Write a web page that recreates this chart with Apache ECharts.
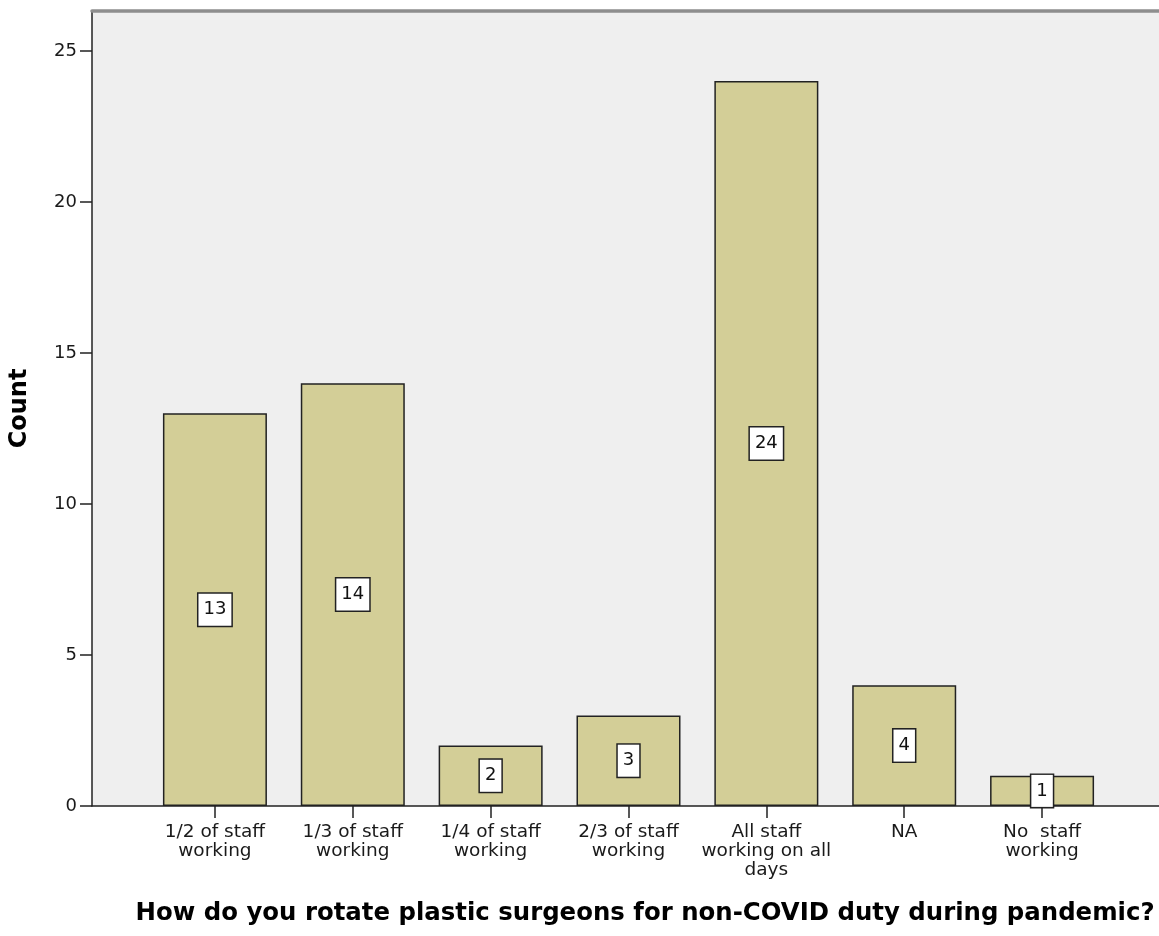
<!DOCTYPE html>
<html><head><meta charset="utf-8">
<script src="https://cdn.jsdelivr.net/npm/echarts@6/dist/echarts.min.js"></script>
<style>html,body{margin:0;padding:0;background:#fff}#c{width:1159px;height:936px}</style>
</head><body><div id="c"></div>
<script>
const categories = ['1/2 of staff\nworking','1/3 of staff\nworking','1/4 of staff\nworking','2/3 of staff\nworking','All staff\nworking on all\ndays','NA','No  staff\nworking'];
const counts = [13, 14, 2, 3, 24, 4, 1];
const yTicks = [0, 5, 10, 15, 20, 25];
const xTitle = 'How do you rotate plastic surgeons for non-COVID duty during pandemic?';
const yTitle = 'Count';

const font = '"DejaVu Sans", Verdana, sans-serif';
const chart = echarts.init(document.getElementById('c'));
const yMax = 26.32;
chart.setOption({
  animation: false,
  textStyle: {fontFamily: font},
  grid: [
    {left: 92, right: 0, top: 11, bottom: 130, show: true, backgroundColor: '#efefef', borderWidth: 0},
    {left: 146, right: 48, top: 11, bottom: 130}
  ],
  title: {text: xTitle, left: 640, top: 897, textAlign: 'center',
    textStyle: {fontSize: 24.4, fontWeight: 'bold', color: '#000', fontFamily: font}},
  xAxis: [
    {type: 'value', gridIndex: 0, min: 0, max: 1, position: 'bottom',
      axisLine: {show: true, lineStyle: {color: '#222', width: 1.5}}, axisTick: {show: false}, axisLabel: {show: false}, splitLine: {show: false}},
    {type: 'value', gridIndex: 0, min: 0, max: 1, position: 'top',
      axisLine: {show: true, lineStyle: {color: '#8e8e8e', width: 3.5}}, axisTick: {show: false}, axisLabel: {show: false}, splitLine: {show: false}},
    {type: 'category', gridIndex: 1, data: categories, position: 'bottom',
      axisLine: {show: false}, axisTick: {show: true, alignWithLabel: true, length: 12, lineStyle: {color: '#222', width: 1.5}},
      axisLabel: {color: '#1a1a1a', fontSize: 18.5, lineHeight: 19, margin: 17, interval: 0, fontFamily: font}}
  ],
  yAxis: [
    {type: 'value', gridIndex: 0, min: 0, max: yMax, interval: 5,
      name: yTitle, nameLocation: 'middle', nameRotate: 90, nameGap: 60,
      nameTextStyle: {fontSize: 24, fontWeight: 'bold', color: '#000', fontFamily: font},
      axisLine: {show: true, lineStyle: {color: '#222', width: 1.5}},
      axisTick: {show: true, length: 12, customValues: yTicks, lineStyle: {color: '#222', width: 1.5}},
      axisLabel: {color: '#1a1a1a', fontSize: 18, margin: 15, fontFamily: font, customValues: yTicks},
      splitLine: {show: false}},
    {type: 'value', gridIndex: 1, min: 0, max: yMax, show: false}
  ],
  series: [{
    type: 'bar', xAxisIndex: 2, yAxisIndex: 1, data: counts, barWidth: 104,
    itemStyle: {color: '#d3ce97', borderColor: '#222', borderWidth: 1.5},
    label: {show: true, position: 'inside', color: '#111', fontSize: 18, lineHeight: 18, fontFamily: font,
      backgroundColor: '#fff', borderColor: '#222', borderWidth: 1.5, padding: [7, 5, 7, 5]}
  }]
});
</script></body></html>
